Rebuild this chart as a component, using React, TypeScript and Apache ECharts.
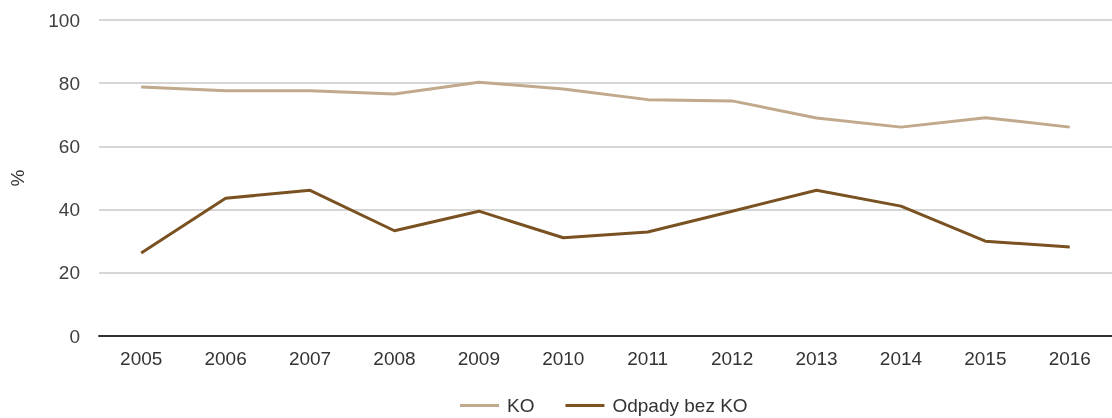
import React, { useEffect, useRef } from "react";
import * as echarts from "echarts";

const years = ["2005","2006","2007","2008","2009","2010","2011","2012","2013","2014","2015","2016"];
const koValues = [78.8, 77.6, 77.6, 76.6, 80.3, 78.2, 74.8, 74.4, 69.0, 66.1, 69.1, 66.1];
const odpadyValues = [26.3, 43.6, 46.1, 33.3, 39.5, 31.1, 32.9, 39.5, 46.1, 41.1, 30.0, 28.2];
const seriesNames = ["KO", "Odpady bez KO"];
const yTicks = { min: 0, max: 100, interval: 20 };

export default function App() {
  const ref = useRef<HTMLDivElement>(null);
  useEffect(() => {
    if (!ref.current) return;
    document.body.style.margin = "0";
    document.body.style.overflow = "hidden";
    const chart = echarts.init(ref.current, null, { renderer: "svg" });
    const font = "Liberation Sans, Arial, sans-serif";
    chart.setOption({
      animation: false,
      textStyle: { fontFamily: font },
      grid: { left: 97, right: 0, top: 20, bottom: 82 },
      legend: {
        top: 396,
        left: 460,
        padding: 0,
        itemWidth: 39,
        itemHeight: 3,
        itemGap: 31,
        itemStyle: { borderWidth: 0 },
        icon: "rect",
        textStyle: { fontSize: 19, color: "#333", fontFamily: font, padding: [0, 0, 0, 3] },
        data: seriesNames,
      },
      xAxis: {
        type: "category",
        data: years,
        boundaryGap: true,
        axisLine: { lineStyle: { color: "#333", width: 2 } },
        axisTick: { show: false },
        axisLabel: { fontSize: 19, color: "#333", margin: 13, fontFamily: font },
      },
      yAxis: {
        type: "value",
        min: yTicks.min,
        max: yTicks.max,
        interval: yTicks.interval,
        name: "%",
        nameLocation: "middle",
        nameRotate: 90,
        nameGap: 72,
        nameTextStyle: { fontSize: 19, color: "#333", fontFamily: font },
        axisLine: { show: false },
        axisTick: { show: false },
        axisLabel: { fontSize: 19, color: "#404040", margin: 19, fontFamily: font },
        splitLine: { lineStyle: { color: "#c8c8c8", width: 1.5 } },
      },
      series: [
        {
          name: seriesNames[0],
          type: "line",
          data: koValues,
          symbol: "none",
          lineStyle: { color: "#c0a98c", width: 3 },
          itemStyle: { color: "#c0a98c" },
        },
        {
          name: seriesNames[1],
          type: "line",
          data: odpadyValues,
          symbol: "none",
          lineStyle: { color: "#7a5222", width: 3 },
          itemStyle: { color: "#7a5222" },
        },
      ],
    });
    return () => chart.dispose();
  }, []);
  return (
    <div
      ref={ref}
      style={{ position: "fixed", left: 0, top: 0, width: 1112, height: 418 }}
    />
  );
}
